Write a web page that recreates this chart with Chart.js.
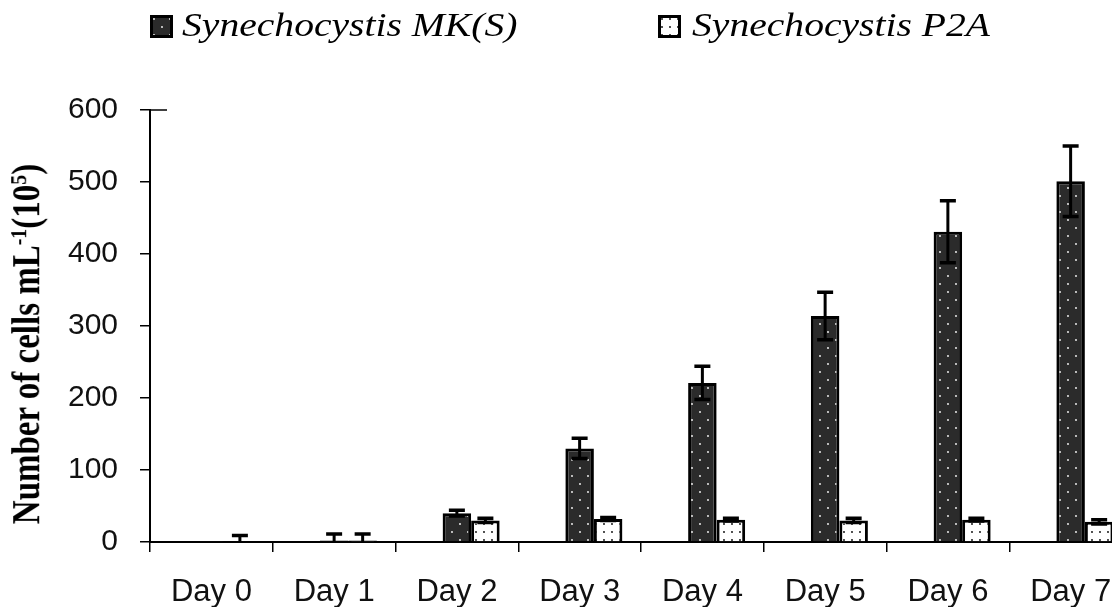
<!DOCTYPE html>
<html>
<head>
<meta charset="utf-8">
<script src="https://cdn.jsdelivr.net/npm/chart.js@4.4.1/dist/chart.umd.min.js"></script>
<style>
html, body { margin: 0; padding: 0; overflow: hidden; background: #fff; }
#wrap { position: relative; width: 1112px; height: 607px; overflow: hidden; background: #fff; }
#chart { position: absolute; left: 0; top: 0; }
.lgText { position: absolute; top: 9px; font-family: 'Liberation Serif', 'Times New Roman', serif; font-style: italic;
  font-size: 33px; line-height: 33px; white-space: nowrap; color: #000; transform-origin: 0 0; transform: scaleX(1.2); }
.lgBox { position: absolute; top: 15px; }
#ytitleAnchor { position: absolute; left: 27px; top: 344px; width: 0; height: 0; transform: scaleX(1.2) rotate(-90deg); }
#ytitle { position: absolute; left: 0; top: 0; transform: translate(-50%, -50%); white-space: nowrap;
  font-family: 'Liberation Serif', 'Times New Roman', serif; font-weight: bold; font-size: 33px; line-height: 33px; color: #000; }
#ytitle sup { font-size: 0.6em; line-height: 0; vertical-align: 0.55em; }
</style>
</head>
<body>
<div id="wrap">
  <canvas id="chart" width="1140" height="607"></canvas>
  <canvas class="lgBox" id="box1" width="23" height="23" style="left:150px"></canvas>
  <div class="lgText" id="lg1" style="left:182px"></div>
  <canvas class="lgBox" id="box2" width="23" height="23" style="left:658px"></canvas>
  <div class="lgText" id="lg2" style="left:692px"></div>
  <div id="ytitleAnchor"><div id="ytitle">Number of cells mL<sup>-1</sup>(10<sup>5</sup>)</div></div>
</div>
<script>
// ---- data ----
const categories = ['Day 0', 'Day 1', 'Day 2', 'Day 3', 'Day 4', 'Day 5', 'Day 6', 'Day 7'];
const seriesNames = ['Synechocystis MK(S)', 'Synechocystis P2A'];
const mkValues  = [0.5, 2, 40, 130, 221, 314, 431, 501];
const mkErrors  = [0, 9, 4, 14, 23, 33, 43, 49];
const p2aValues = [1, 2, 30, 32, 31, 30, 31, 28];
const p2aErrors = [8, 9, 3, 2, 2, 3, 2, 3];
const spacerValues = [null, null, null, null, null, null, null, null];
const yMin = 0, yMax = 600, yStep = 100;

// ---- patterns ----
function makeTile(bg, dot, square) {
  const c = document.createElement('canvas');
  c.width = 16; c.height = 16;
  const g = c.getContext('2d');
  g.fillStyle = bg; g.fillRect(0, 0, 16, 16);
  g.fillStyle = dot;
  const pts = square ? [[4,4],[12,4],[4,12],[12,12]] : [[4,4],[12,12]];
  pts.forEach(p => { g.beginPath(); g.arc(p[0], p[1], 0.9, 0, Math.PI * 2); g.fill(); });
  return c;
}
const darkTile = makeTile('#2b2b2b', '#ffffff', false);
const lightTile = makeTile('#ffffff', '#000000', true);
const chartCanvas = document.getElementById('chart');
const cctx = chartCanvas.getContext('2d');
const darkPattern = cctx.createPattern(darkTile, 'repeat');
const lightPattern = cctx.createPattern(lightTile, 'repeat');

function drawBox(id, tile) {
  const c = document.getElementById(id);
  const g = c.getContext('2d');
  g.fillStyle = g.createPattern(tile, 'repeat');
  g.fillRect(0, 0, 23, 23);
  g.lineWidth = 3; g.strokeStyle = '#000';
  g.strokeRect(1.5, 1.5, 20, 20);
}
drawBox('box1', darkTile);
drawBox('box2', lightTile);
document.getElementById('lg1').textContent = seriesNames[0];
document.getElementById('lg2').textContent = seriesNames[1];

// ---- plugins ----
const errorBarPlugin = {
  id: 'errorBars',
  afterDatasetsDraw(chart) {
    const ctx = chart.ctx, ys = chart.scales.y, area = chart.chartArea;
    ctx.save();
    ctx.beginPath();
    ctx.rect(area.left, area.top - 20, area.right - area.left, area.bottom - area.top + 20);
    ctx.clip();
    ctx.strokeStyle = '#000';
    chart.data.datasets.forEach((ds, di) => {
      if (!ds.errors) return;
      const meta = chart.getDatasetMeta(di);
      meta.data.forEach((bar, i) => {
        const v = ds.data[i], e = ds.errors[i];
        if (v == null || !e) return;
        const x = bar.x;
        const yHi = ys.getPixelForValue(v + e);
        const yLo = ys.getPixelForValue(v - e);
        ctx.lineWidth = 3;
        ctx.beginPath(); ctx.moveTo(x, yHi); ctx.lineTo(x, yLo); ctx.stroke();
        ctx.lineWidth = 3.5;
        ctx.beginPath();
        ctx.moveTo(x - 8, yHi); ctx.lineTo(x + 8, yHi);
        ctx.moveTo(x - 8, yLo); ctx.lineTo(x + 8, yLo);
        ctx.stroke();
      });
    });
    ctx.restore();
  }
};
const topTickPlugin = {
  id: 'topTick',
  afterDraw(chart) {
    const ctx = chart.ctx, ys = chart.scales.y, left = chart.chartArea.left;
    const y = ys.getPixelForValue(yMax);
    ctx.save();
    ctx.strokeStyle = '#000'; ctx.lineWidth = 1.5;
    ctx.beginPath(); ctx.moveTo(left, y); ctx.lineTo(left + 17, y); ctx.stroke();
    ctx.restore();
  }
};

new Chart(chartCanvas, {
  type: 'bar',
  data: {
    labels: categories,
    datasets: [
      { label: '', data: spacerValues, backgroundColor: 'rgba(0,0,0,0)', borderWidth: 0 },
      { label: seriesNames[0], data: mkValues, errors: mkErrors, backgroundColor: darkPattern, borderColor: '#000', borderWidth: 3 },
      { label: seriesNames[1], data: p2aValues, errors: p2aErrors, backgroundColor: lightPattern, borderColor: '#000', borderWidth: 3 }
    ]
  },
  options: {
    responsive: false,
    animation: false,
    events: [],
    datasets: { bar: { categoryPercentage: 0.697, barPercentage: 1 } },
    layout: { padding: { top: 110, right: 8, left: 0, bottom: 0 } },
    plugins: { legend: { display: false }, tooltip: { enabled: false }, title: { display: false } },
    scales: {
      x: {
        grid: { display: true, drawOnChartArea: false, drawTicks: true, tickLength: 10, color: '#000', lineWidth: 1.5, offset: true },
        border: { display: true, color: '#000', width: 2 },
        ticks: { font: { family: "'Liberation Sans', Arial, sans-serif", size: 31 }, color: '#111', padding: 22, maxRotation: 0, autoSkip: false },
        afterFit(s) { s.height = 65; }
      },
      y: {
        min: yMin, max: yMax,
        grid: { display: true, drawOnChartArea: false, drawTicks: true, tickLength: 10, color: '#000', lineWidth: 1.5 },
        border: { display: true, color: '#000', width: 2 },
        ticks: { stepSize: yStep, font: { family: "'Liberation Sans', Arial, sans-serif", size: 30 }, color: '#111', padding: 22 },
        afterFit(s) { s.width = 150; }
      }
    }
  },
  plugins: [errorBarPlugin, topTickPlugin]
});
</script>
</body>
</html>
